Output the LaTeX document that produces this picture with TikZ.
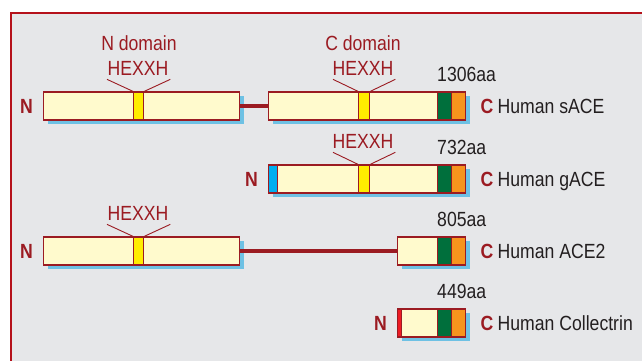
\documentclass[tikz,border=0pt]{standalone}
\usepackage{fontspec}
\setmainfont{Liberation Sans}[FakeStretch=0.86]
\usetikzlibrary{calc,positioning,shadows}
\definecolor{cornice}{HTML}{B5121B}
\definecolor{sfondo}{HTML}{E6E7E9}
\definecolor{rosso}{HTML}{9B1B22}
\definecolor{crema}{HTML}{FFFACD}
\definecolor{ombra}{HTML}{6EC1E4}
\definecolor{giallo}{HTML}{FFED00}
\definecolor{verde}{HTML}{006F3C}
\definecolor{arancio}{HTML}{F7941D}
\definecolor{azzurro}{HTML}{00AEEF}
\definecolor{rossovivo}{HTML}{ED1C24}
\definecolor{testo}{HTML}{231F20}
\newcommand\corpo{\fontsize{20.5}{24}\selectfont}
\tikzset{
proteina/.style={draw=rosso,fill=crema,line width=1.3pt,inner sep=0pt,minimum height=28pt,anchor=west,
  general shadow={fill=ombra,shadow xshift=4pt,shadow yshift=-4pt}},
segmento/.style={draw=rosso,line width=1.3pt,inner sep=0pt,minimum height=28pt,anchor=west},
legame/.style={draw=rosso,line width=3.4pt},
richiamo/.style={draw=rosso,line width=0.9pt},
estremo/.style={inner sep=0pt,text=rosso,font=\corpo\bfseries},
nome/.style={inner sep=0pt,text=testo},
dominio/.style={inner sep=0pt,text=rosso,anchor=base}}

\begin{document}
\begin{tikzpicture}[x=1pt,y=-1pt,font=\corpo]

\useasboundingbox (0,0) rectangle (642,361);
\fill[sfondo] (11,13) rectangle (660,375);
\draw[cornice,line width=2.5pt] (11,375) -- (11,13) -- (660,13);

\node[dominio] (nd) at (139,51) {N domain};
\node[dominio] (cd) at (363,51) {C domain};

\node[proteina,minimum width=196pt] (s1) at (43,106) {};
\node[proteina,minimum width=197pt] (s2) at (268,106) {};
\node[segmento,fill=giallo,minimum width=10pt] (sh1) at (133,106) {};
\node[segmento,fill=giallo,minimum width=11pt] (sh2) at (358,106) {};
\node[segmento,fill=verde,minimum width=14pt] (sv) at (437,106) {};
\node[segmento,fill=arancio,minimum width=14pt] (sa) at (451,106) {};
\node[estremo,left=10pt of s1] (sN) {N};
\node[estremo,right=14pt of s2] (sC) {C};
\node[nome,base right=4pt of sC] (snome) {Human sACE};
\node[nome,above right=9pt and 0pt of sv.north west] (saa) {1306aa};
\node[dominio] (sx1) at (138,75) {HEXXH};
\node[dominio] (sx2) at (363,75) {HEXXH};

\node[proteina,minimum width=197pt] (g1) at (268,179) {};
\node[segmento,fill=azzurro,minimum width=9pt] (gb) at (268,179) {};
\node[segmento,fill=giallo,minimum width=11pt] (gh) at (358,179) {};
\node[segmento,fill=verde,minimum width=14pt] (gv) at (437,179) {};
\node[segmento,fill=arancio,minimum width=14pt] (ga) at (451,179) {};
\node[estremo,left=10pt of g1] (gN) {N};
\node[estremo,right=14pt of g1] (gC) {C};
\node[nome,base right=4pt of gC] (gnome) {Human gACE};
\node[nome,above right=9pt and 0pt of gv.north west] (gaa) {732aa};
\node[dominio] (gx) at (363,148) {HEXXH};

\node[proteina,minimum width=196pt] (a1) at (43,251) {};
\node[proteina,minimum width=68pt] (a2) at (397,251) {};
\node[segmento,fill=giallo,minimum width=10pt] (ah) at (133,251) {};
\node[segmento,fill=verde,minimum width=14pt] (av) at (437,251) {};
\node[segmento,fill=arancio,minimum width=14pt] (aa) at (451,251) {};
\node[estremo,left=10pt of a1] (aN) {N};
\node[estremo,right=14pt of a2] (aC) {C};
\node[nome,base right=4pt of aC] (anome) {Human ACE2};
\node[nome,above right=9pt and 0pt of av.north west] (aaa) {805aa};
\node[dominio] (ax) at (138,220) {HEXXH};

\node[proteina,minimum width=68pt] (c1) at (397,323) {};
\node[segmento,fill=rossovivo,minimum width=4pt] (cr) at (397,323) {};
\node[segmento,fill=verde,minimum width=14pt] (cv) at (437,323) {};
\node[segmento,fill=arancio,minimum width=14pt] (ca) at (451,323) {};
\node[estremo,left=10pt of c1] (cN) {N};
\node[estremo,right=14pt of c1] (cC) {C};
\node[nome,base right=4pt of cC] (cnome) {Human Collectrin};
\node[nome,above right=9pt and 0pt of cv.north west] (caa) {449aa};

\draw[legame] (s1) -- (s2);
\draw[legame] (a1) -- (a2);

\draw[richiamo] ($(sh1.north west)+(-26,-12)$) -- (sh1.north west);
\draw[richiamo] ($(sh1.north east)+(26,-12)$) -- (sh1.north east);
\draw[richiamo] ($(sh2.north west)+(-25,-12)$) -- (sh2.north west);
\draw[richiamo] ($(sh2.north east)+(25,-12)$) -- (sh2.north east);
\draw[richiamo] ($(gh.north west)+(-25,-12)$) -- (gh.north west);
\draw[richiamo] ($(gh.north east)+(25,-12)$) -- (gh.north east);
\draw[richiamo] ($(ah.north west)+(-26,-12)$) -- (ah.north west);
\draw[richiamo] ($(ah.north east)+(26,-12)$) -- (ah.north east);

\end{tikzpicture}
\end{document}
